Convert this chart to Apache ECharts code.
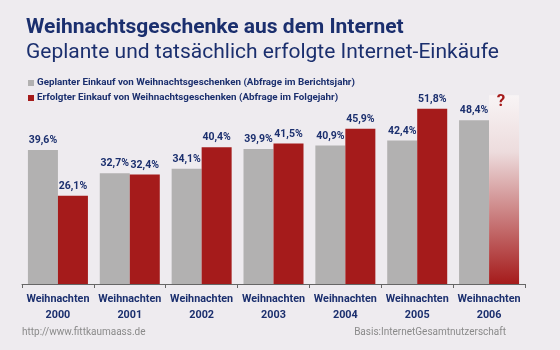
<!DOCTYPE html>
<html><head><meta charset="utf-8">
<script src="https://cdn.jsdelivr.net/npm/echarts@6/dist/echarts.min.js"></script>
<style>html,body{margin:0;padding:0;background:#eeebef}#c{width:560px;height:350px}</style>
</head><body><div id="c"></div>
<script>
const categories = ['Weihnachten\n2000','Weihnachten\n2001','Weihnachten\n2002','Weihnachten\n2003','Weihnachten\n2004','Weihnachten\n2005','Weihnachten\n2006'];
const geplant = [39.6, 32.7, 34.1, 39.9, 40.9, 42.4, 48.4];
const erfolgt = [26.1, 32.4, 40.4, 41.5, 45.9, 51.8, null];
const unknownBarValue = 55.8; // placeholder bar for 2006 ("?")
const seriesNames = ['Geplanter Einkauf von Weihnachtsgeschenken (Abfrage im Berichtsjahr)','Erfolgter Einkauf von Weihnachtsgeschenken (Abfrage im Folgejahr)'];

const NAVY = '#1b2f6e', GRAY = '#b2b1b1', RED = '#a51b1b';
const FONT = 'Roboto';
const fmt = p => p.value == null ? '' : String(p.value).replace('.', ',') + '%';

const redData = erfolgt.map((v, i) => {
  if (v != null) return v;
  return {
    value: unknownBarValue,
    itemStyle: { color: { type: 'linear', x: 0, y: 0, x2: 0, y2: 1, colorStops: [
      { offset: 0, color: '#f8f4f5' }, { offset: 0.3, color: '#eddcdd' }, { offset: 1, color: RED }] } },
    label: { formatter: '?', color: RED, fontSize: 17, fontWeight: 'bold', position: 'insideTop', distance: -2, offset: [-3, 0] }
  };
});

const chart = echarts.init(document.getElementById('c'));
chart.setOption({
  backgroundColor: '#eeebef',
  animation: false,
  title: [
    { text: 'Weihnachtsgeschenke aus dem Internet', left: 26, top: 17, padding: 0,
      textStyle: { fontFamily: FONT, fontSize: 21, fontWeight: 'bold', color: NAVY } },
    { text: 'Geplante und tatsächlich erfolgte Internet-Einkäufe', left: 26, top: 42, padding: 0,
      textStyle: { fontFamily: FONT, fontSize: 21, fontWeight: 'normal', color: NAVY } },
    { text: 'http://www.fittkaumaass.de', left: 22, top: 327, padding: 0,
      textStyle: { fontFamily: FONT, fontSize: 10, fontWeight: 'normal', color: '#8a8a8a' } },
    { text: 'Basis:InternetGesamtnutzerschaft', right: 54, top: 327, padding: 0,
      textStyle: { fontFamily: FONT, fontSize: 10, fontWeight: 'normal', color: '#8a8a8a' } }
  ],
  legend: {
    data: seriesNames, orient: 'vertical', left: 28, top: 78, itemGap: 5,
    icon: 'rect', itemWidth: 6, itemHeight: 6, padding: 0,
    selectedMode: false,
    textStyle: { fontFamily: FONT, fontSize: 9.8, fontWeight: 'bold', color: NAVY, padding: [0, 0, 0, -2] }
  },
  grid: { left: 22, right: 35, top: 81, bottom: 66 },
  xAxis: {
    type: 'category', data: categories,
    axisLine: { lineStyle: { color: '#666', width: 1 } },
    axisTick: { show: true, length: 4, lineStyle: { color: '#666' } },
    axisLabel: { fontFamily: FONT, fontSize: 10.8, fontWeight: 'bold', color: NAVY, lineHeight: 16, margin: 7, interval: 0 }
  },
  yAxis: { type: 'value', min: 0, max: 60, show: false, splitLine: { show: false } },
  series: [
    { name: seriesNames[0], type: 'bar', data: geplant, barGap: '0%', barCategoryGap: '16.5%',
      itemStyle: { color: GRAY },
      label: { show: true, position: 'top', distance: 4, formatter: fmt, fontFamily: FONT, fontSize: 10.5, fontWeight: 'bold', color: NAVY } },
    { name: seriesNames[1], type: 'bar', data: redData, barGap: '0%', barCategoryGap: '16.5%',
      itemStyle: { color: RED },
      label: { show: true, position: 'top', distance: 4, formatter: fmt, fontFamily: FONT, fontSize: 10.5, fontWeight: 'bold', color: NAVY } }
  ]
});
</script></body></html>
